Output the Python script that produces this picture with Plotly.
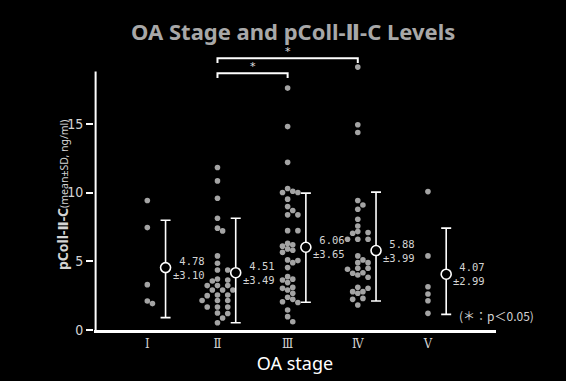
import plotly.graph_objects as go

# ---------------- data ----------------
stages = ["Ⅰ", "Ⅱ", "Ⅲ", "Ⅳ", "Ⅴ"]

stage_I = [9.42, 7.45, 3.30, 2.11, 1.92]
stage_II = [11.82, 10.85, 9.59, 8.13, 7.41, 7.21, 5.39, 4.86, 4.37, 4.37,
            3.71, 3.64, 3.57, 3.23, 3.23, 3.23, 2.91, 2.91, 2.91, 2.55, 2.55,
            2.50, 2.15, 2.15, 2.15, 1.67, 1.67, 1.67, 1.24, 1.20, 0.87, 0.53]
stage_III = [17.6, 14.8, 12.2, 10.3, 10.1, 10.0, 10.0, 9.52, 8.98, 8.69,
             8.38, 8.38, 7.23, 7.23, 6.3, 6.2, 6.1, 5.9, 5.8, 5.65, 5.1, 5.05,
             4.9, 4.54, 3.88, 3.7, 3.64, 3.45, 3.1, 3.03, 2.91, 2.67, 2.38,
             2.23, 2.06, 2.0, 1.46, 0.97, 0.6]
stage_IV = [19.13, 14.93, 14.37, 9.42, 9.1, 8.79, 8.06, 7.57, 7.16, 7.09,
            7.04, 6.6, 6.6, 6.6, 5.39, 5.1, 4.9, 4.9, 4.49, 4.42, 4.49, 4.13,
            4.17, 4.0, 3.84, 3.11, 3.04, 2.79, 2.67, 2.79, 2.3, 2.23, 1.82]
stage_V = [10.07, 5.39, 3.15, 2.62, 2.13, 1.21]
groups = [stage_I, stage_II, stage_III, stage_IV, stage_V]

# mean and +/-SD as drawn in the picture
mean_drawn = [4.54, 4.17, 6.02, 5.78, 4.06]
upper_drawn = [7.99, 8.13, 9.96, 10.03, 7.41]
lower_drawn = [0.90, 0.53, 2.02, 2.11, 1.14]

# printed labels
mean_labels = ["4.78", "4.51", "6.06", "5.88", "4.07"]
sd_labels = ["±3.10", "±3.49", "±3.65", "±3.99", "±2.99"]

# significance pairs (category index pairs)
sig_pairs = [(1, 2), (1, 3)]
sig_levels = [18.68, 19.77]

# ---------------- layout geometry ----------------
W, H = 566, 381
ML, MR, MT, MB = 94, 70, 51, 51
XR = [-0.76, 4.97]
YR = [0, 20.3]
px_x = (W - ML - MR) / (XR[1] - XR[0])
px_y = (H - MT - MB) / (YR[1] - YR[0])


def swarm(vals, center, d=5.4):
    order = sorted(range(len(vals)), key=lambda i: -vals[i])
    placed = []
    xs = [0.0] * len(vals)
    for i in order:
        yp = vals[i] * px_y
        for k in [0, 1, -1, 2, -2, 3, -3, 4, -4]:
            xo = k * d * 0.95
            ok = all((xo - px) ** 2 + (yp - py) ** 2 >= (d * 0.98) ** 2 for px, py in placed)
            if ok:
                placed.append((xo, yp))
                xs[i] = center + xo / px_x
                break
    return xs


fig = go.Figure()
DOT = "#a4a4a4"
for gi, vals in enumerate(groups):
    fig.add_trace(go.Scatter(
        x=swarm(vals, gi), y=vals, mode="markers",
        marker=dict(size=5.6, color=DOT, line=dict(width=0)),
        showlegend=False, hoverinfo="y"))

eb_off = 0.26
xs_eb = [i + eb_off for i in range(len(stages))]
fig.add_trace(go.Scatter(
    x=xs_eb, y=mean_drawn, mode="markers",
    marker=dict(size=10, color="black", line=dict(color="white", width=1.6)),
    error_y=dict(type="data", symmetric=False,
                 array=[u - m for u, m in zip(upper_drawn, mean_drawn)],
                 arrayminus=[m - l for m, l in zip(mean_drawn, lower_drawn)],
                 color="white", thickness=1.6, width=5),
    showlegend=False))

LABF = dict(family="DejaVu Sans Mono, monospace", size=10.5, color="#d4d4d4")
for i in range(len(stages)):
    fig.add_annotation(x=xs_eb[i], y=mean_drawn[i], xref="x", yref="y",
                       text=f"{mean_labels[i]}<br>{sd_labels[i]}", showarrow=False,
                       xanchor="right", yanchor="middle", align="right",
                       xshift=41, font=LABF)

# significance brackets
for (a, b), lv in zip(sig_pairs, sig_levels):
    leg = 0.35
    fig.add_shape(type="path", xref="x", yref="y",
                  path=f"M {a},{lv - leg} L {a},{lv} L {b},{lv} L {b},{lv - leg}",
                  line=dict(color="white", width=2))
    fig.add_annotation(x=(a + b) / 2, y=lv, xref="x", yref="y", text="*",
                       showarrow=False, yanchor="bottom", yshift=-2,
                       font=dict(family="DejaVu Sans", size=11, color="#e0e0e0"))

# y axis line (short of the top)
fig.add_shape(type="line", xref="paper", yref="y", x0=0.004, x1=0.004, y0=0, y1=18.8,
              line=dict(color="white", width=2))

fig.add_annotation(x=(536 - ML) / (W - ML - MR), y=1.05, xref="paper", yref="y",
                   text="(＊：p＜0.05)",
                   showarrow=False, xanchor="right", yanchor="middle",
                   font=dict(family="Noto Sans CJK JP", size=12, color="#d4d4d4"))

# y-axis title
fig.add_annotation(x=(62 - ML) / (W - ML - MR), y=(H - MB - 195) / (H - MT - MB),
                   xref="paper", yref="paper", xanchor="center", yanchor="middle",
                   text="<b>pColl-Ⅱ-C</b><span style='font-size:10.5px'>(mean±SD, ng/ml)</span>",
                   showarrow=False, textangle=-90,
                   font=dict(family="Noto Sans, DejaVu Sans, sans-serif", size=14, color="#d4d4d4"))

fig.update_layout(
    width=W, height=H,
    margin=dict(l=ML, r=MR, t=MT, b=MB),
    paper_bgcolor="black", plot_bgcolor="black",
    title=dict(text="<b>OA Stage and pColl-Ⅱ-C Levels</b>", x=0.518, xanchor="center",
               y=0.916, yanchor="middle",
               font=dict(family="Noto Sans, DejaVu Sans, sans-serif", size=22, color="#a8a8a8")),
    xaxis=dict(range=XR, tickmode="array", tickvals=list(range(len(stages))), ticktext=stages,
               showgrid=False, zeroline=False, showline=True, linecolor="white", linewidth=2.5,
               ticks="", tickfont=dict(family="DejaVu Serif Condensed, DejaVu Serif, serif",
                                       size=13, color="#d4d4d4"),
               title=dict(text="OA stage", standoff=4,
                          font=dict(family="Noto Sans, sans-serif", size=18, color="white"))),
    yaxis=dict(range=YR, tickvals=[0, 5, 10, 15], showgrid=False, zeroline=False,
               showline=False, ticks="outside", ticklen=7, tickwidth=1.5, tickcolor="white",
               tickfont=dict(family="Liberation Sans Narrow, DejaVu Sans Condensed, sans-serif",
                             size=14, color="#d4d4d4")),
)

fig.write_html("out.html", config={"displayModeBar": False},
               post_script="document.body.style.margin='0';document.body.style.background='black';")
